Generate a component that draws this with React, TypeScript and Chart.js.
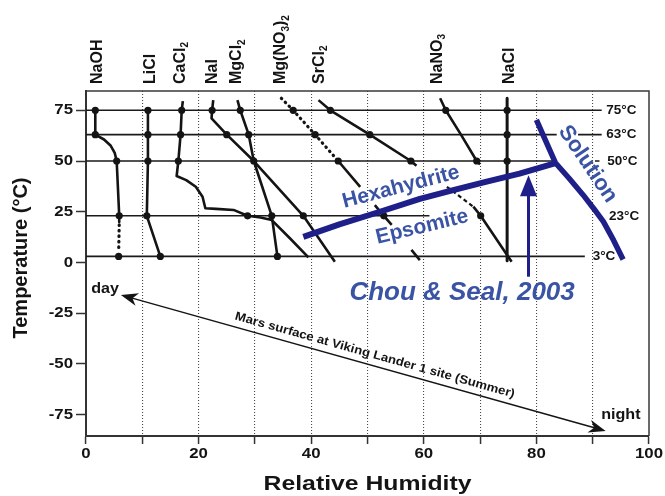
import React, { useEffect, useRef } from 'react';
import { Chart, registerables } from 'chart.js';

Chart.register(...registerables);

// ---------- axes ----------
const X_MIN = 0;
const X_MAX = 100;
const Y_MIN = -85.5;
const Y_MAX = 84.5;
const xTickValues = [0, 10, 20, 30, 40, 50, 60, 70, 80, 90, 100];
const xTickLabels = ['0', '', '20', '', '40', '', '60', '', '80', '', '100'];
const yTickValues = [-75, -50, -25, 0, 25, 50, 75];
const yTickLabels = ['-75', '-50', '-25', '0', '25', '50', '75'];
const xTitle = 'Relative Humidity';
const yTitle = 'Temperature (°C)';

// ---------- temperature reference lines ----------
const tempLevels = [75, 63, 50, 23, 3];
const tempLabels = ['75°C', '63°C', '50°C', '23°C', '3°C'];
const tempLabelX = [92.4, 92.4, 92.6, 92.9, 90.0];
const tempSegments = [
  [[0, 91.6]],
  [[0, 83.6], [87.4, 91.6]],
  [[0, 83.3], [90.4, 91.2]],
  [[0, 61]],
  [[0, 88.6]],
];

// ---------- salts ----------
const saltNames = ['NaOH', 'LiCl', 'CaCl_2', 'NaI', 'MgCl_2', 'Mg(NO_3)_2', 'SrCl_2', 'NaNO_3', 'NaCl'];
const saltLabelX = [2.0, 11.4, 16.8, 22.4, 26.8, 34.6, 41.5, 62.4, 75.3];

const naohSolid = [[1.65, 75], [1.65, 63], [3.2, 60.6], [4.4, 57.5], [5.1, 54], [5.45, 50], [5.9, 23], [5.9, 20]];
const naohDotted = [[5.9, 18.5], [5.8, 5]];
const naohMarks = [[1.65, 75], [1.65, 63], [5.45, 50], [5.9, 23], [5.8, 3]];

const liclLine = [[11, 75], [11, 63], [11, 50], [10.8, 23], [13.2, 3]];
const liclMarks = [[11, 75], [11, 63], [11, 50], [10.8, 23], [13.2, 3]];

const cacl2Line = [[17.2, 79.5], [17, 75], [16.8, 63], [16.4, 50], [16.1, 42.6], [17.8, 40.6], [19.5, 37.3], [20.7, 32.4], [21.2, 26.7], [23.1, 26.4], [26.2, 25.9], [28.7, 23], [31, 22.2], [33, 20.9], [36.3, 11.7], [39.5, 2.5]];
const cacl2Marks = [[17, 75], [16.8, 63], [16.4, 50], [28.7, 23]];

const naiLine = [[22.6, 80], [22.4, 75], [22.3, 71], [25, 63], [29.8, 50], [38.6, 23], [44.2, 0.4]];
const naiMarks = [[22.4, 75], [25, 63], [29.8, 50], [38.6, 23]];

const mgcl2Line = [[26.9, 80], [27.4, 75], [28.9, 63], [29.8, 50], [33, 23], [34, 3]];
const mgcl2Marks = [[27.4, 75], [28.9, 63], [33, 23], [34, 3]];

const mgno3Dotted = [[34.7, 80.9], [36.8, 75], [40.7, 63], [44.8, 50]];
const mgno3Solid = [
  [[44.8, 50], [48.7, 37.3]],
  [[51.3, 28.3], [52.9, 23], [54.3, 18.5]],
  [[57.8, 6.2], [59.3, 1.2]],
];
const mgno3Marks = [[36.8, 75], [40.7, 63], [44.8, 50], [52.9, 23]];

const srcl2Solid = [
  [[41.3, 80], [43.4, 75], [50.4, 63], [57.7, 50], [58.7, 47.7]],
  [[68.8, 27.5], [70.1, 23], [75.6, 0.4]],
];
const srcl2Dashed = [[64.1, 37.3], [68.8, 27.5]];
const srcl2Marks = [[43.4, 75], [50.4, 63], [57.7, 50], [70.1, 23]];

const nano3Line = [[62.9, 80.9], [63.9, 75], [66.6, 63], [69.4, 50], [70, 48.3]];
const nano3Marks = [[63.9, 75], [69.4, 50]];

const naclLine = [[74.8, 80.9], [74.8, 0.8]];
const naclMarks = [[74.8, 75], [74.8, 63], [74.8, 50]];

// ---------- Chou & Seal overlay ----------
const hexaEpsoLine = [[38.6, 12.6], [45, 18.8], [52.2, 25], [59.3, 31.3], [64.7, 35.3], [71, 39.7], [77, 43.8], [83.4, 49]];
const solutionLine = [[80, 70.3], [83.4, 49], [85.8, 41.5], [88.3, 33.3], [90.2, 26.5], [91.9, 20.1], [93.7, 11], [95.4, 1.5]];
const chouArrow = [[78.6, -7], [78.6, 43]];
const phaseLabels = ['Hexahydrite', 'Epsomite', 'Solution'];
const phaseLabelPos = [[55.95, 37.2], [59.7, 17.5], [89.1, 48.5]];
const phaseLabelRot = [-14.6, -13.5, 56];
const phaseLabelSize = [21, 21, 22];
const citation = 'Chou & Seal, 2003';
const citationPos = [66.8, -14.8];

// ---------- Mars annotation ----------
const marsArrow = [[6.2, -16], [92.3, -83]];
const marsText = 'Mars surface at Viking Lander 1 site (Summer)';
const dayLabel = 'day';
const dayPos = [3.4, -13.1];
const nightLabel = 'night';
const nightPos = [95, -75.4];

const FONT = '"Liberation Sans", Arial, Helvetica, sans-serif';
const BLACK = '#141414';
const NAVY = '#1f1f8a';
const BLUE_TEXT = '#3a53a4';

const pts = (arr: number[][]) => arr.map(([x, y]) => ({ x, y }));
const segs = (list: number[][][]) => {
  const out: any[] = [];
  list.forEach((s, i) => {
    if (i > 0) out.push({ x: s[0][0], y: null });
    s.forEach(([x, y]) => out.push({ x, y }));
  });
  return out;
};

function lineDs(data: any[], color: string, width: number, order: number, dash: number[] = [], cap: CanvasLineCap = 'butt') {
  return {
    data,
    showLine: true,
    borderColor: color,
    borderWidth: width,
    borderDash: dash,
    borderCapStyle: cap,
    borderJoinStyle: 'round' as CanvasLineJoin,
    pointRadius: 0,
    pointHoverRadius: 0,
    fill: false,
    tension: 0,
    spanGaps: false,
    order,
  };
}

function markDs(arr: number[][]) {
  return {
    data: pts(arr),
    showLine: false,
    pointRadius: 3.6,
    pointHoverRadius: 3.6,
    pointBackgroundColor: BLACK,
    pointBorderWidth: 0,
    order: 1,
  };
}

function drawText(ctx: CanvasRenderingContext2D, s: string, x: number, y: number, font: string, color: string,
  align: CanvasTextAlign, baseline: CanvasTextBaseline, rotDeg = 0, sx = 1) {
  ctx.save();
  ctx.translate(x, y);
  if (rotDeg) ctx.rotate((rotDeg * Math.PI) / 180);
  if (sx !== 1) ctx.scale(sx, 1);
  ctx.font = font;
  ctx.fillStyle = color;
  ctx.textAlign = align;
  ctx.textBaseline = baseline;
  ctx.fillText(s, 0, 0);
  ctx.restore();
}

function drawFormula(ctx: CanvasRenderingContext2D, s: string, x: number, yBottom: number) {
  ctx.save();
  ctx.translate(x, yBottom);
  ctx.rotate(-Math.PI / 2);
  ctx.fillStyle = BLACK;
  ctx.textAlign = 'left';
  ctx.textBaseline = 'middle';
  let cx = 0;
  for (let i = 0; i < s.length; i++) {
    if (s[i] === '_') {
      const c = s[i + 1];
      ctx.font = `bold 10px ${FONT}`;
      ctx.fillText(c, cx, 5);
      cx += ctx.measureText(c).width;
      i++;
    } else {
      ctx.font = `bold 16px ${FONT}`;
      ctx.fillText(s[i], cx, 0);
      cx += ctx.measureText(s[i]).width;
    }
  }
  ctx.restore();
}

function arrowHead(ctx: CanvasRenderingContext2D, tx: number, ty: number, ang: number, len: number, half: number, notch: number) {
  ctx.save();
  ctx.translate(tx, ty);
  ctx.rotate(ang);
  ctx.beginPath();
  ctx.moveTo(0, 0);
  ctx.lineTo(-len, -half);
  ctx.lineTo(-len + notch, 0);
  ctx.lineTo(-len, half);
  ctx.closePath();
  ctx.fill();
  ctx.restore();
}

const annotPlugin = {
  id: 'annot',
  afterDatasetsDraw(chart: any) {
    const ctx: CanvasRenderingContext2D = chart.ctx;
    const xs = chart.scales.x;
    const ys = chart.scales.y;
    const X = (v: number) => xs.getPixelForValue(v);
    const Y = (v: number) => ys.getPixelForValue(v);
    const ca = chart.chartArea;

    // frame top & right
    ctx.save();
    ctx.strokeStyle = '#3a3a3a';
    ctx.lineWidth = 1.5;
    ctx.beginPath();
    ctx.moveTo(ca.left, ca.top);
    ctx.lineTo(ca.right, ca.top);
    ctx.lineTo(ca.right, ca.bottom);
    ctx.stroke();
    ctx.restore();

    // temperature labels
    tempLevels.forEach((t, i) => {
      drawText(ctx, tempLabels[i], X(tempLabelX[i]), Y(t), `bold 13.5px ${FONT}`, BLACK, 'left', 'middle');
    });

    // Chou & Seal arrow
    {
      const x0 = X(chouArrow[0][0]);
      const y0 = Y(chouArrow[0][1]);
      const y1 = Y(chouArrow[1][1]);
      ctx.save();
      ctx.strokeStyle = NAVY;
      ctx.fillStyle = NAVY;
      ctx.lineWidth = 3;
      ctx.beginPath();
      ctx.moveTo(x0, y0);
      ctx.lineTo(x0, y1 + 18);
      ctx.stroke();
      arrowHead(ctx, x0, y1, -Math.PI / 2, 21, 8.5, 0);
      ctx.restore();
    }

    // phase labels
    phaseLabels.forEach((s, i) => {
      drawText(ctx, s, X(phaseLabelPos[i][0]), Y(phaseLabelPos[i][1]), `bold ${phaseLabelSize[i]}px ${FONT}`, BLUE_TEXT, 'center', 'middle', phaseLabelRot[i]);
    });
    drawText(ctx, citation, X(citationPos[0]), Y(citationPos[1]), `italic bold 26px ${FONT}`, BLUE_TEXT, 'center', 'middle');

    // Mars arrow
    {
      const ax = X(marsArrow[0][0]);
      const ay = Y(marsArrow[0][1]);
      const bx = X(marsArrow[1][0]);
      const by = Y(marsArrow[1][1]);
      const ang = Math.atan2(by - ay, bx - ax);
      ctx.save();
      ctx.strokeStyle = BLACK;
      ctx.fillStyle = BLACK;
      ctx.lineWidth = 1.5;
      ctx.beginPath();
      ctx.moveTo(ax + Math.cos(ang) * 8, ay + Math.sin(ang) * 8);
      ctx.lineTo(bx - Math.cos(ang) * 8, by - Math.sin(ang) * 8);
      ctx.stroke();
      arrowHead(ctx, bx, by, ang, 17, 6.5, 5);
      arrowHead(ctx, ax, ay, ang + Math.PI, 17, 6.5, 5);
      ctx.restore();

      // text along the arrow
      const t = 0.518;
      const mx = ax + (bx - ax) * t + Math.sin(ang) * 10.5;
      const my = ay + (by - ay) * t - Math.cos(ang) * 10.5;
      ctx.save();
      ctx.font = `bold 12px ${FONT}`;
      const w = ctx.measureText(marsText).width;
      ctx.restore();
      drawText(ctx, marsText, mx, my, `bold 12px ${FONT}`, BLACK, 'center', 'middle', (ang * 180) / Math.PI, 290 / w);

      drawText(ctx, dayLabel, X(dayPos[0]), Y(dayPos[1]), `bold 14px ${FONT}`, BLACK, 'center', 'middle', 0, 1.15);
      drawText(ctx, nightLabel, X(nightPos[0]), Y(nightPos[1]), `bold 14px ${FONT}`, BLACK, 'center', 'middle', 0, 1.15);
    }
  },
  afterDraw(chart: any) {
    const ctx: CanvasRenderingContext2D = chart.ctx;
    const xs = chart.scales.x;
    const ys = chart.scales.y;
    const ca = chart.chartArea;
    // tick labels
    xTickValues.forEach((v, i) => {
      if (!xTickLabels[i]) return;
      drawText(ctx, xTickLabels[i], xs.getPixelForValue(v), ca.bottom + 10, `bold 15px ${FONT}`, BLACK, 'center', 'top', 0, 1.12);
    });
    yTickValues.forEach((v, i) => {
      drawText(ctx, yTickLabels[i], ca.left - 13, ys.getPixelForValue(v), `bold 15px ${FONT}`, BLACK, 'right', 'middle', 0, 1.12);
    });
    // axis titles
    drawText(ctx, xTitle, (ca.left + ca.right) / 2, 484, `bold 21px ${FONT}`, BLACK, 'center', 'middle', 0, 1.18);
    drawText(ctx, yTitle, 21, 258, `bold 20px ${FONT}`, BLACK, 'center', 'middle', -90);
    // salt labels
    saltNames.forEach((s, i) => drawFormula(ctx, s, xs.getPixelForValue(saltLabelX[i]), 84));
  },
};

export default function App() {
  const ref = useRef<HTMLCanvasElement | null>(null);

  useEffect(() => {
    if (!ref.current) return;

    const tempData = tempLevels.map((t, i) => {
      const out: any[] = [];
      tempSegments[i].forEach(([a, b], j) => {
        if (j > 0) out.push({ x: a, y: null });
        out.push({ x: a, y: t });
        out.push({ x: b, y: t });
      });
      return lineDs(out, '#1a1a1a', 1.6, 4);
    });

    const datasets: any[] = [
      // overlay (on top)
      lineDs(pts(hexaEpsoLine), NAVY, 6, 0),
      lineDs(pts(solutionLine), NAVY, 5.5, 0, [], 'butt'),
      // markers
      markDs(naohMarks),
      markDs(liclMarks),
      markDs(cacl2Marks),
      markDs(naiMarks),
      markDs(mgcl2Marks),
      markDs(mgno3Marks),
      markDs(srcl2Marks),
      markDs(nano3Marks),
      markDs(naclMarks),
      // salt lines
      lineDs(pts(naohSolid), BLACK, 2.6, 2),
      lineDs(pts(naohDotted), BLACK, 3.2, 2, [0.5, 5], 'round'),
      lineDs(pts(liclLine), BLACK, 2.6, 2),
      lineDs(pts(cacl2Line), BLACK, 2.6, 2),
      lineDs(pts(naiLine), BLACK, 2.6, 2),
      lineDs(pts(mgcl2Line), BLACK, 2.6, 2),
      lineDs(pts(mgno3Dotted), BLACK, 3.2, 2, [0.5, 5], 'round'),
      lineDs(segs(mgno3Solid), BLACK, 2.6, 2),
      lineDs(segs(srcl2Solid), BLACK, 2.6, 2),
      lineDs(pts(srcl2Dashed), BLACK, 2.2, 2, [4, 3]),
      lineDs(pts(nano3Line), BLACK, 2.6, 2),
      lineDs(pts(naclLine), BLACK, 3, 2),
      ...tempData,
    ];

    const chart = new Chart(ref.current, {
      type: 'scatter',
      data: { datasets },
      options: {
        animation: false,
        responsive: false,
        events: [],
        layout: { padding: { top: 91, right: 16, bottom: 0, left: 0 } },
        plugins: { legend: { display: false }, tooltip: { enabled: false } },
        scales: {
          x: {
            type: 'linear',
            min: X_MIN,
            max: X_MAX,
            afterBuildTicks: (s: any) => { s.ticks = xTickValues.map((v) => ({ value: v })); },
            ticks: { display: false },
            grid: {
              display: true,
              drawOnChartArea: true,
              color: (c: any) => (c.tick && (c.tick.value === X_MIN || c.tick.value === X_MAX) ? 'rgba(0,0,0,0)' : '#4a4a4a'),
              lineWidth: 1.1,
              tickLength: 8,
              tickColor: '#333',
              tickWidth: 1.5,
            },
            border: { display: true, color: '#333', width: 2, dash: [1, 2] },
            afterFit: (s: any) => { s.height = 60; },
          },
          y: {
            type: 'linear',
            min: Y_MIN,
            max: Y_MAX,
            afterBuildTicks: (s: any) => { s.ticks = yTickValues.map((v) => ({ value: v })); },
            ticks: { display: false },
            grid: { display: true, drawOnChartArea: false, tickLength: 10, tickColor: '#333', tickWidth: 1.5 },
            border: { display: true, color: '#333', width: 2 },
            afterFit: (s: any) => { s.width = 86; },
          },
        },
      } as any,
      plugins: [annotPlugin],
    });

    return () => chart.destroy();
  }, []);

  return (
    <div style={{ position: 'absolute', left: 0, top: 0, width: 665, height: 496, background: '#fff' }}>
      <canvas ref={ref} width={665} height={496} style={{ display: 'block', width: 665, height: 496 }} />
    </div>
  );
}
